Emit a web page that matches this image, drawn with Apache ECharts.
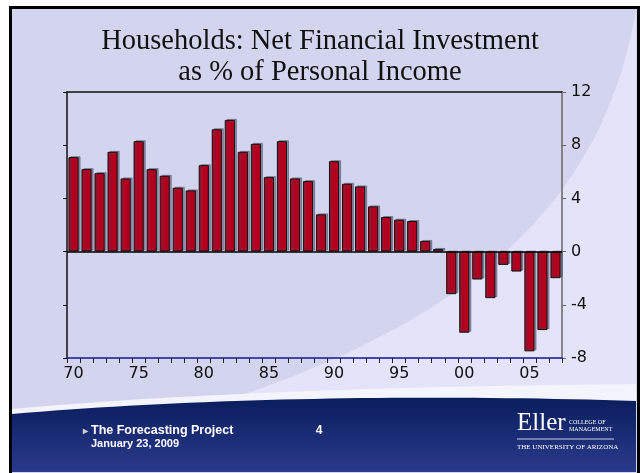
<!DOCTYPE html>
<html>
<head>
<meta charset="utf-8">
<script src="https://cdn.jsdelivr.net/npm/echarts@6/dist/echarts.min.js"></script>
<style>
  html, body { margin: 0; padding: 0; background: #fff; }
  #main { width: 640px; height: 473px; }
</style>
</head>
<body>
<div id="main"></div>
<script>
// year labels (two digits, as on the slide)
const years = ['70', '71', '72', '73', '74', '75', '76', '77', '78', '79',
  '80', '81', '82', '83', '84', '85', '86', '87', '88', '89',
  '90', '91', '92', '93', '94', '95', '96', '97', '98', '99',
  '00', '01', '02', '03', '04', '05', '06', '07'];

// net financial investment, % of personal income
const netInvestment = [7.1, 6.2, 5.9, 7.5, 5.5, 8.3, 6.2, 5.7, 4.8, 4.6,
  6.5, 9.2, 9.9, 7.5, 8.1, 5.6, 8.3, 5.5, 5.3, 2.8,
  6.8, 5.1, 4.9, 3.4, 2.6, 2.4, 2.3, 0.8, 0.2, -3.2,
  -6.1, -2.1, -3.5, -1.0, -1.5, -7.5, -5.9, -2.0];

const yMin = -8;
const yMax = 12;
const yStep = 4;

const titleLines = ['Households: Net Financial Investment', 'as % of Personal Income'];

// sample a cubic bezier into polygon points (for the slide decoration)
function bezierPts(p0, p1, p2, p3, n) {
  let pts = [];
  for (let i = 0; i <= n; i++) {
    let t = i / n, u = 1 - t;
    pts.push([
      u * u * u * p0[0] + 3 * u * u * t * p1[0] + 3 * u * t * t * p2[0] + t * t * t * p3[0],
      u * u * u * p0[1] + 3 * u * u * t * p1[1] + 3 * u * t * t * p2[1] + t * t * t * p3[1]
    ]);
  }
  return pts;
}

const swoosh = bezierPts([190, 412], [430, 338], [600, 230], [636, 9], 40).concat([[636, 412]]);
const highlight = bezierPts([12, 409], [200, 392], [420, 386], [636, 384], 40).concat([[636, 430], [12, 430]]);
const band = bezierPts([12, 414], [200, 398], [420, 394], [636, 401], 40).concat([[636, 472], [12, 472]]);

let myChart = echarts.init(document.getElementById('main'));

let option = {
  animation: false,
  backgroundColor: '#ffffff',
  title: {
    text: titleLines.join('\n'),
    left: 'center',
    top: 21,
    textStyle: {
      fontFamily: 'Liberation Serif',
      fontWeight: 'normal',
      fontSize: 28.5,
      lineHeight: 31,
      color: '#111'
    }
  },
  grid: {
    left: 67,
    right: 78,
    top: 92,
    bottom: 115
  },
  xAxis: [
    {
      type: 'category',
      data: years,
      position: 'bottom',
      axisLine: { onZero: false, lineStyle: { color: '#16169a', width: 1.5 } },
      axisTick: { show: true, interval: 0, length: 5, lineStyle: { color: '#222' } },
      axisLabel: {
        interval: 4,
        margin: 8,
        fontFamily: 'DejaVu Sans',
        fontSize: 16,
        color: '#111'
      },
      splitLine: { show: false }
    },
    {
      // top frame line of the plot
      type: 'category',
      data: years,
      position: 'top',
      axisLine: { onZero: false, lineStyle: { color: '#111', width: 1.5 } },
      axisTick: { show: false },
      axisLabel: { show: false }
    }
  ],
  yAxis: [
    {
      type: 'value',
      position: 'left',
      min: yMin,
      max: yMax,
      interval: yStep,
      axisLine: { show: true, onZero: false, lineStyle: { color: '#111', width: 1.5 } },
      axisTick: { show: true, length: 4, lineStyle: { color: '#111' } },
      axisLabel: { show: false },
      splitLine: { show: false }
    },
    {
      type: 'value',
      position: 'right',
      min: yMin,
      max: yMax,
      interval: yStep,
      axisLine: { show: true, onZero: false, lineStyle: { color: '#666', width: 1.5 } },
      axisTick: { show: true, length: 4, lineStyle: { color: '#666' } },
      axisLabel: {
        margin: 9,
        fontFamily: 'DejaVu Sans',
        fontSize: 16,
        color: '#111'
      },
      splitLine: { show: false }
    }
  ],
  series: [
    {
      name: 'Net Financial Investment',
      type: 'bar',
      xAxisIndex: 0,
      yAxisIndex: 0,
      data: netInvestment,
      barCategoryGap: '22%',
      itemStyle: {
        color: '#b3001f',
        borderColor: '#111',
        borderWidth: 1,
        shadowColor: 'rgba(70,70,100,0.5)',
        shadowOffsetX: 2,
        shadowOffsetY: -1
      },
      markLine: {
        silent: true,
        symbol: 'none',
        label: { show: false },
        lineStyle: { color: '#000', width: 1.5, type: 'solid' },
        data: [{ yAxis: 0 }]
      }
    }
  ],
  graphic: {
    elements: [
      // slide background + frame
      {
        type: 'rect', z: -10,
        shape: { x: 10.5, y: 7.5, width: 628, height: 470 },
        style: { fill: '#d3d5ee', stroke: '#000', lineWidth: 3 }
      },
      // lighter swoosh on the right
      {
        type: 'polygon', z: -9,
        shape: { points: swoosh },
        style: { fill: '#e3e3f9' }
      },
      // white highlight over the footer band
      {
        type: 'polygon', z: -8,
        shape: { points: highlight },
        style: { fill: '#f4f4fc' }
      },
      // navy footer band
      {
        type: 'polygon', z: -7,
        shape: { points: band },
        style: {
          fill: {
            type: 'linear', x: 0, y: 0, x2: 0, y2: 1,
            colorStops: [
              { offset: 0, color: '#0a1d5c' },
              { offset: 1, color: '#2a3a8c' }
            ]
          }
        }
      },
      // footer texts
      {
        type: 'text', z: -5, x: 83, y: 431,
        style: { text: '\u25B8', fill: '#c8c8d8', font: 'bold 10px "Liberation Sans"', verticalAlign: 'middle' }
      },
      {
        type: 'text', z: -5, x: 91, y: 431,
        style: { text: 'The Forecasting Project', fill: '#fff', font: 'bold 12.5px "Liberation Sans"', verticalAlign: 'middle' }
      },
      {
        type: 'text', z: -5, x: 91, y: 444,
        style: { text: 'January 23, 2009', fill: '#fff', font: 'bold 11px "Liberation Sans"', verticalAlign: 'middle' }
      },
      {
        type: 'text', z: -5, x: 319, y: 431,
        style: { text: '4', fill: '#fff', font: 'bold 12px "Liberation Sans"', align: 'center', verticalAlign: 'middle' }
      },
      {
        type: 'text', z: -5, x: 517, y: 436,
        style: { text: 'Eller', fill: '#fff', font: '25px "Liberation Serif"', verticalAlign: 'bottom' }
      },
      {
        type: 'text', z: -5, x: 569, y: 422,
        style: { text: 'COLLEGE OF', fill: '#fff', font: '6px "Liberation Serif"', verticalAlign: 'middle' }
      },
      {
        type: 'text', z: -5, x: 569, y: 429,
        style: { text: 'MANAGEMENT', fill: '#fff', font: '6px "Liberation Serif"', verticalAlign: 'middle' }
      },
      {
        type: 'line', z: -5,
        shape: { x1: 517, y1: 439, x2: 614, y2: 439 },
        style: { stroke: '#c8cbe6', lineWidth: 1 }
      },
      {
        type: 'text', z: -5, x: 517, y: 447,
        style: { text: 'THE UNIVERSITY OF ARIZONA', fill: '#fff', font: '7px "Liberation Serif"', verticalAlign: 'middle' }
      }
    ]
  }
};

myChart.setOption(option);
window.addEventListener('resize', () => {
  myChart.resize();
});
</script>
</body>
</html>
